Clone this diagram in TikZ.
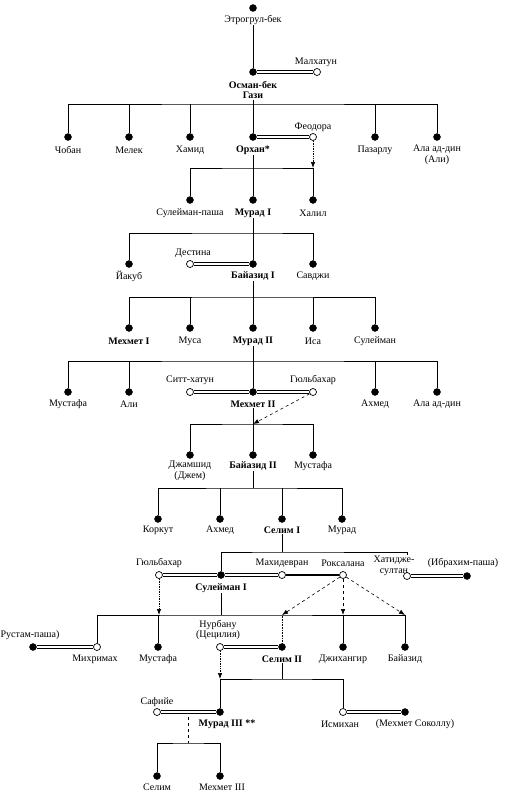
\documentclass[tikz,border=0pt]{standalone}
\usepackage{fontspec}
\setmainfont{Liberation Serif}
\usetikzlibrary{arrows.meta}

\tikzset{
  male/.style={circle, fill=black, draw=black, inner sep=0pt, minimum size=7pt},
  female/.style={circle, fill=white, draw=black, line width=0.7pt, inner sep=0pt, minimum size=7pt},
  personname/.style={inner sep=0.5pt, align=center, font=\fontsize{10}{10.5}\selectfont},
  ruler/.style={personname, font=\fontsize{10}{10.5}\selectfont\bfseries},
  kin/.style={line width=0.6pt},
  marriage/.style={line width=0.7pt, double=white, double distance=2.6pt},
  mother/.style={line width=0.7pt, densely dotted, -{Latex[length=6pt,width=4.5pt]}},
  motherdash/.style={line width=0.6pt, dashed, -{Latex[length=6pt,width=4.5pt]}}
}

\begin{document}
\begin{tikzpicture}[x=1pt,y=-1pt]
\useasboundingbox (0,0) rectangle (526,800);

% Этрогрул-бек and Осман-бек
\node[male] (ertogrul) at (253,8) {};
\node[personname] (ertogrulL) at (253,20) {Этрогрул-бек};
\node[male] (osman) at (253,72) {};
\node[ruler] (osmanL) at (253,90) {Осман-бек\\Гази};
\node[female] (malhatun) at (317,72) {};
\node[personname] (malhatunL) at (316,62) {Малхатун};
\draw[kin] (ertogrulL) -- (osman);
\draw[marriage] (osman) -- (malhatun);

% sons of Осман
\coordinate (bar1) at (253,104);
\node[male] (choban) at (68,137) {};
\node[male] (melek) at (129,137) {};
\node[male] (hamid) at (190,137) {};
\node[male] (orhan) at (253,137) {};
\node[male] (pazarlu) at (375,137) {};
\node[male] (alaeddin) at (437,137) {};
\node[female] (feodora) at (313,137) {};
\node[personname] (chobanL) at (68,150) {Чобан};
\node[personname] (melekL) at (129,150) {Мелек};
\node[personname] (hamidL) at (190,150) {Хамид};
\node[ruler] (orhanL) at (253,150) {Орхан*};
\node[personname] (pazarluL) at (375,150) {Пазарлу};
\node[personname] (alaeddinL) at (437,155) {Ала ад-дин\\(Али)};
\node[personname] (feodoraL) at (313,127) {Феодора};
\draw[kin] (choban) |- (bar1) -| (alaeddin);
\draw[kin] (melek) -- (melek |- bar1);
\draw[kin] (hamid) -- (hamid |- bar1);
\draw[kin] (pazarlu) -- (pazarlu |- bar1);
\draw[kin] (osmanL) -- (orhan);
\draw[marriage] (orhan) -- (feodora);

% sons of Орхан
\coordinate (bar2) at (253,168);
\node[male] (suleimanpasha) at (190,200) {};
\node[male] (murad1) at (253,200) {};
\node[male] (halil) at (313,200) {};
\node[personname] (suleimanpashaL) at (190,213) {Сулейман-паша};
\node[ruler] (murad1L) at (253,213) {Мурад I};
\node[personname] (halilL) at (313,213) {Халил};
\draw[kin] (suleimanpasha) |- (bar2) -| (halil);
\draw[kin] (orhanL) -- (murad1);
\draw[mother] (feodora) -- (feodora |- bar2);

% sons of Мурад I
\coordinate (bar3) at (253,233);
\node[male] (yakub) at (129,264) {};
\node[male] (bayazid1) at (253,264) {};
\node[male] (savci) at (313,264) {};
\node[female] (destina) at (190,264) {};
\node[personname] (yakubL) at (129,276) {Йакуб};
\node[ruler] (bayazid1L) at (253,276) {Байазид I};
\node[personname] (savciL) at (313,276) {Савджи};
\node[personname] (destinaL) at (193,253) {Дестина};
\draw[kin] (yakub) |- (bar3) -| (savci);
\draw[kin] (murad1L) -- (bayazid1);
\draw[marriage] (destina) -- (bayazid1);

% sons of Байазид I
\coordinate (bar4) at (253,297);
\node[male] (mehmet1) at (129,328) {};
\node[male] (musa) at (190,328) {};
\node[male] (murad2) at (253,328) {};
\node[male] (isa) at (313,328) {};
\node[male] (suleimanc) at (375,328) {};
\node[ruler] (mehmet1L) at (129,341) {Мехмет I};
\node[personname] (musaL) at (190,341) {Муса};
\node[ruler] (murad2L) at (253,341) {Мурад II};
\node[personname] (isaL) at (313,341) {Иса};
\node[personname] (suleimancL) at (375,341) {Сулейман};
\draw[kin] (mehmet1) |- (bar4) -| (suleimanc);
\draw[kin] (musa) -- (musa |- bar4);
\draw[kin] (isa) -- (isa |- bar4);
\draw[kin] (bayazid1L) -- (murad2);

% sons of Мурад II
\coordinate (bar5) at (253,361);
\node[male] (mustafa1) at (68,392) {};
\node[male] (ali) at (129,392) {};
\node[male] (mehmet2) at (253,392) {};
\node[male] (ahmed1) at (375,392) {};
\node[male] (alaeddin2) at (437,392) {};
\node[female] (sitt) at (190,392) {};
\node[female] (gulbahar1) at (313,392) {};
\node[personname] (mustafa1L) at (68,404) {Мустафа};
\node[personname] (aliL) at (129,404) {Али};
\node[ruler] (mehmet2L) at (253,404) {Мехмет II};
\node[personname] (ahmed1L) at (375,404) {Ахмед};
\node[personname] (alaeddin2L) at (437,404) {Ала ад-дин};
\node[personname] (sittL) at (190,380) {Ситт-хатун};
\node[personname] (gulbahar1L) at (313,380) {Гюльбахар};
\draw[kin] (mustafa1) |- (bar5) -| (alaeddin2);
\draw[kin] (ali) -- (ali |- bar5);
\draw[kin] (ahmed1) -- (ahmed1 |- bar5);
\draw[kin] (murad2L) -- (mehmet2);
\draw[marriage] (sitt) -- (mehmet2);
\draw[marriage] (mehmet2) -- (gulbahar1);

% sons of Мехмет II
\coordinate (bar6) at (253,424);
\node[male] (cem) at (190,455) {};
\node[male] (bayazid2) at (253,455) {};
\node[male] (mustafa2) at (313,455) {};
\node[personname] (cemL) at (190,471) {Джамшид\\(Джем)};
\node[ruler] (bayazid2L) at (253,466) {Байазид II};
\node[personname] (mustafa2L) at (313,466) {Мустафа};
\draw[kin] (cem) |- (bar6) -| (mustafa2);
\draw[kin] (mehmet2L) -- (bayazid2);
\draw[motherdash] (gulbahar1) -- (bar6);

% sons of Байазид II
\coordinate (bar7) at (253,488);
\node[male] (korkut) at (158,519) {};
\node[male] (ahmed2) at (220,519) {};
\node[male] (selim1) at (282,519) {};
\node[male] (murad) at (342,519) {};
\node[personname] (korkutL) at (158,530) {Коркут};
\node[personname] (ahmed2L) at (220,530) {Ахмед};
\node[ruler] (selim1L) at (282,530) {Селим I};
\node[personname] (muradL) at (342,530) {Мурад};
\draw[kin] (korkut) |- (bar7) -| (murad);
\draw[kin] (ahmed2) -- (ahmed2 |- bar7);
\draw[kin] (selim1) -- (selim1 |- bar7);
\draw[kin] (bayazid2L) -- (bar7);

% children of Селим I
\coordinate (bar8) at (282,552);
\coordinate (hatdrop) at (407,555);
\node[female] (gulbahar2) at (159,575) {};
\node[male] (suleiman1) at (221,575) {};
\node[female] (mahidevran) at (282,575) {};
\node[female] (roxelana) at (343,575) {};
\node[female] (hatice) at (407,576) {};
\node[male] (ibrahim) at (467,576) {};
\node[personname] (gulbahar2L) at (159,563) {Гюльбахар};
\node[ruler] (suleiman1L) at (221,588) {Сулейман I};
\node[personname] (mahidevranL) at (282,563) {Махидевран};
\node[personname] (roxelanaL) at (343,563) {Роксалана};
\node[personname] (haticeL) at (394,566) {Хатидже-\\султан};
\node[personname] (ibrahimL) at (463,563) {(Ибрахим-паша)};
\draw[kin] (selim1L) -- (bar8);
\draw[kin] (suleiman1) |- (bar8) -| (hatdrop);
\draw[marriage] (gulbahar2) -- (suleiman1);
\draw[marriage] (suleiman1) -- (mahidevran);
\draw[kin, line width=1.2pt] (mahidevran) -- (roxelana);
\draw[marriage] (hatice) -- (ibrahim);

% children of Сулейман I
\coordinate (bar9) at (221,615);
\node[male] (rustem) at (33,647) {};
\node[female] (mihrimah) at (97,647) {};
\node[male] (mustafa3) at (158,647) {};
\node[female] (nurbanu) at (220,647) {};
\node[male] (selim2) at (282,647) {};
\node[male] (cihangir) at (343,647) {};
\node[male] (bayazid3) at (405,647) {};
\node[personname] (rustemL) at (30,635) {Рустам-паша)};
\node[personname] (mihrimahL) at (95,659) {Михримах};
\node[personname] (mustafa3L) at (158,659) {Мустафа};
\node[personname] (nurbanuL) at (218,630) {Нурбану\\(Цецилия)};
\node[ruler] (selim2L) at (282,659) {Селим II};
\node[personname] (cihangirL) at (343,659) {Джихангир};
\node[personname] (bayazid3L) at (405,659) {Байазид};
\draw[kin] (suleiman1L) -- (bar9);
\draw[kin] (mihrimah) |- (bar9) -| (bayazid3);
\draw[kin] (mustafa3) -- (mustafa3 |- bar9);
\draw[kin, densely dotted] (selim2) -- (selim2 |- bar9);
\draw[kin] (cihangir) -- (cihangir |- bar9);
\draw[marriage] (rustem) -- (mihrimah);
\draw[marriage] (nurbanu) -- (selim2);
\draw[mother] (gulbahar2) -- (gulbahar2 |- bar9);
\draw[motherdash] (roxelana) -- (selim2 |- bar9);
\draw[motherdash] (roxelana) -- (cihangir |- bar9);
\draw[motherdash] (roxelana) -- (bayazid3 |- bar9);

% children of Селим II
\coordinate (bar10) at (282,679);
\node[female] (safiye) at (157,712) {};
\node[male] (murad3) at (220,712) {};
\node[female] (esmahan) at (343,712) {};
\node[male] (sokollu) at (405,712) {};
\node[personname] (safiyeL) at (157,702) {Сафийе};
\node[ruler] (murad3L) at (227,724) {Мурад III **};
\node[personname] (esmahanL) at (340,724) {Исмихан};
\node[personname] (sokolluL) at (415,724) {(Мехмет Соколлу)};
\draw[kin] (selim2L) -- (bar10);
\draw[kin] (murad3) |- (bar10) -| (esmahan);
\draw[mother] (nurbanu) -- (nurbanu |- bar10);
\draw[marriage] (safiye) -- (murad3);
\draw[marriage] (esmahan) -- (sokollu);

% sons of Мурад III
\coordinate (m3mid) at (188,717);
\coordinate (bar11) at (188,743);
\node[male] (selim3) at (157,776) {};
\node[male] (mehmet3) at (220,776) {};
\node[personname] (selim3L) at (157,787) {Селим};
\node[personname] (mehmet3L) at (222,787) {Мехмет III};
\draw[kin, dashed] (m3mid) -- (bar11);
\draw[kin] (selim3) |- (bar11) -| (mehmet3);
\end{tikzpicture}
\end{document}
